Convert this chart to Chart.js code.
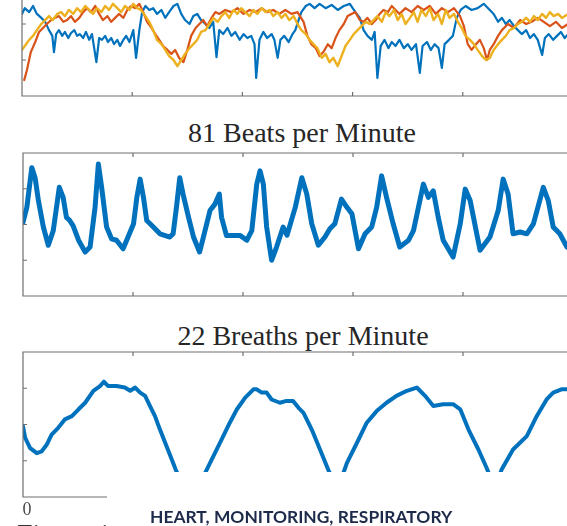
<!DOCTYPE html>
<html>
<head>
<meta charset="utf-8">
<script src="https://cdn.jsdelivr.net/npm/chart.js@4/dist/chart.umd.min.js"></script>
<style>
  html, body { margin:0; padding:0; background:#fff; width:567px; height:526px; overflow:hidden; position:relative; }
  canvas, .txt { position:absolute; }
  .ttl { font-family:"Liberation Serif","Times New Roman",serif; font-size:28px; line-height:28px; color:#262626; text-align:center; white-space:nowrap; }
  #mask { position:absolute; left:107px; top:472px; width:470px; height:60px; background:#fff; }
  #kw { position:absolute; left:150px; top:507px; font-family:Lato,"Open Sans",sans-serif; font-weight:700; font-size:17.4px; line-height:20px; color:#1d2a4a; white-space:nowrap; }
  #fig { position:absolute; left:17px; top:520px; font-family:"Liberation Serif",serif; font-size:28px; line-height:28px; color:#333; white-space:nowrap; }
</style>
</head>
<body>
<canvas id="c1" width="571" height="164" style="left:12px;top:-58px"></canvas>
<div class="txt ttl" style="left:0;top:119px;width:604px">81 Beats per Minute</div>
<canvas id="c2" width="570" height="163" style="left:13px;top:143px"></canvas>
<div class="txt ttl" style="left:0;top:322px;width:606px">22 Breaths per Minute</div>
<canvas id="c3" width="570" height="185" style="left:13px;top:342px"></canvas>
<div id="fig">Figure 1</div>
<div id="mask"></div>
<div id="kw">HEART, MONITORING, RESPIRATORY</div>
<script>
// ---- shared axes (time in seconds, amplitude in arbitrary units) ----
const timeTicks = [0, 2, 4, 6, 8, 10];
const timeTickLabels = ["0", "2", "4", "6", "8", "10"];
const ampTicks = [1, 2, 3];

// ---- panel 1: three raw colour-channel signals ----
const mixBlueT = [0,0.05,0.13,0.2,0.27,0.35,0.42,0.49,0.55,0.58,0.62,0.67,0.73,0.78,0.84,0.89,0.95,1.0,1.05,1.11,1.16,1.22,1.27,1.35,1.4,1.45,1.51,1.56,1.62,1.67,1.73,1.78,1.84,1.89,1.95,2.02,2.07,2.13,2.18,2.24,2.31,2.38,2.45,2.53,2.6,2.67,2.75,2.82,2.89,2.96,3.04,3.11,3.18,3.25,3.33,3.4,3.47,3.53,3.58,3.65,3.73,3.8,3.87,3.95,4.02,4.09,4.16,4.22,4.25,4.31,4.38,4.45,4.53,4.58,4.64,4.69,4.76,4.84,4.91,4.96,5.02,5.07,5.15,5.22,5.31,5.4,5.51,5.62,5.73,5.84,5.95,6.05,6.13,6.2,6.27,6.35,6.4,6.45,6.51,6.58,6.65,6.71,6.78,6.85,6.93,7.0,7.07,7.15,7.22,7.27,7.35,7.42,7.49,7.56,7.62,7.67,7.75,7.82,7.89,7.96,8.05,8.16,8.27,8.38,8.49,8.56,8.64,8.71,8.78,8.85,8.93,9.0,9.07,9.15,9.22,9.29,9.36,9.44,9.49,9.56,9.64,9.71,9.78,9.85,9.91];
const mixBlueV = [2.28,2.44,2.33,2.5,2.28,2.17,2.06,1.83,1.67,1.22,1.72,1.83,1.67,1.78,1.61,1.75,1.83,1.67,1.72,1.61,1.78,1.56,1.72,0.94,1.61,1.56,1.67,1.5,1.61,1.44,1.56,1.39,1.56,1.67,1.5,1.83,1.06,1.83,2.33,2.5,2.39,2.44,2.28,2.39,2.17,2.33,2.5,2.56,2.28,2.11,2.0,2.22,2.28,2.11,2.0,1.89,2.06,1.08,1.83,1.72,1.89,1.67,1.78,1.56,1.72,1.61,1.67,1.44,0.5,1.56,1.78,1.61,1.72,1.56,1.06,1.56,1.67,1.5,1.72,1.83,2.11,2.33,2.5,2.56,2.44,2.56,2.44,2.53,2.39,2.5,2.56,2.33,2.17,1.83,1.67,1.56,1.78,0.5,1.39,1.56,1.33,1.5,1.39,1.56,1.33,1.44,1.28,1.44,0.64,1.39,1.5,1.28,1.44,1.33,0.78,1.44,1.56,1.67,2.17,2.39,2.5,2.39,2.44,2.56,2.39,2.28,2.06,2.17,2.0,2.11,1.94,1.83,1.72,1.83,1.61,1.72,1.56,1.14,1.61,1.72,1.56,1.67,1.78,1.61,1.72];
const mixRedT = [0.04,0.09,0.16,0.24,0.31,0.38,0.45,0.53,0.6,0.67,0.75,0.82,0.89,0.96,1.04,1.11,1.18,1.25,1.33,1.4,1.47,1.55,1.62,1.69,1.76,1.84,1.91,1.98,2.05,2.13,2.2,2.27,2.35,2.42,2.49,2.56,2.64,2.71,2.78,2.85,2.93,3.0,3.07,3.15,3.22,3.29,3.36,3.44,3.51,3.58,3.69,3.8,3.91,4.02,4.13,4.24,4.35,4.45,4.56,4.67,4.78,4.89,5.0,5.11,5.18,5.25,5.33,5.4,5.47,5.55,5.62,5.69,5.76,5.84,5.91,5.98,6.05,6.13,6.2,6.27,6.35,6.42,6.49,6.56,6.64,6.71,6.78,6.85,6.96,7.07,7.18,7.29,7.4,7.51,7.62,7.73,7.84,7.95,8.02,8.09,8.16,8.24,8.31,8.38,8.44,8.49,8.56,8.64,8.71,8.82,8.93,9.04,9.15,9.25,9.36,9.47,9.58,9.69,9.8,9.91];
const mixRedV = [0.44,0.72,1.22,1.5,1.78,1.89,2.0,2.11,2.17,2.22,2.06,2.11,2.22,2.06,2.17,2.33,2.44,2.33,2.5,2.28,2.11,2.22,2.06,2.17,2.28,2.17,2.39,2.5,2.44,2.56,2.33,2.06,1.89,1.72,1.56,1.39,1.28,1.17,1.28,1.06,0.94,1.28,1.67,1.89,2.0,2.11,1.94,2.17,2.33,2.28,2.39,2.33,2.44,2.28,2.39,2.33,2.44,2.33,2.39,2.28,2.39,2.28,2.33,2.06,1.67,1.44,1.33,1.11,1.22,1.44,1.33,1.61,1.83,2.0,2.22,2.28,2.33,2.11,2.06,2.17,2.0,2.11,2.28,2.39,2.33,2.5,2.39,2.28,2.44,2.33,2.5,2.39,2.5,2.28,2.44,2.33,2.44,2.22,1.94,1.44,1.28,1.44,1.56,1.33,1.0,1.28,1.44,1.67,1.83,2.0,1.89,2.11,2.0,2.06,2.17,2.06,1.94,2.06,1.89,2.0];
const mixYellowT = [0,0.05,0.13,0.2,0.27,0.35,0.42,0.49,0.56,0.64,0.71,0.78,0.85,0.93,1.0,1.07,1.15,1.22,1.29,1.36,1.44,1.51,1.58,1.65,1.73,1.8,1.87,1.95,2.02,2.09,2.16,2.24,2.31,2.38,2.45,2.53,2.6,2.67,2.75,2.82,2.89,2.96,3.04,3.11,3.18,3.25,3.33,3.4,3.47,3.55,3.62,3.69,3.76,3.84,3.91,3.98,4.05,4.13,4.2,4.27,4.35,4.42,4.49,4.56,4.64,4.71,4.78,4.85,4.93,5.0,5.07,5.15,5.22,5.29,5.36,5.44,5.51,5.58,5.65,5.73,5.8,5.87,5.95,6.02,6.09,6.16,6.24,6.31,6.38,6.45,6.53,6.6,6.67,6.75,6.82,6.89,6.96,7.04,7.11,7.18,7.25,7.33,7.4,7.47,7.55,7.62,7.69,7.76,7.84,7.91,7.98,8.05,8.13,8.2,8.27,8.35,8.42,8.49,8.56,8.64,8.71,8.78,8.85,8.93,9.0,9.07,9.15,9.22,9.29,9.36,9.44,9.51,9.58,9.65,9.73,9.8,9.91];
const mixYellowV = [1.28,1.39,1.56,1.67,1.83,2.0,2.11,2.22,2.11,2.28,2.33,2.22,2.39,2.28,2.44,2.33,2.5,2.39,2.28,2.44,2.33,2.5,2.39,2.56,2.44,2.33,2.5,2.39,2.56,2.44,2.39,2.22,2.06,1.83,1.56,1.44,1.28,1.11,1.0,0.83,1.0,1.17,1.33,1.44,1.56,1.78,1.83,2.0,2.17,2.06,2.22,2.33,2.17,2.39,2.28,2.44,2.33,2.22,2.39,2.28,2.44,2.33,2.39,2.22,2.33,2.17,2.28,2.11,2.22,2.0,1.83,1.72,1.56,1.44,1.33,1.06,1.17,0.94,1.06,0.83,1.11,1.39,1.56,1.72,1.83,1.94,2.06,2.0,2.11,2.22,2.06,2.33,2.22,2.39,2.11,2.28,2.0,2.17,2.33,2.06,2.39,2.22,2.44,2.11,2.28,2.0,2.39,2.17,2.28,2.06,1.89,1.67,1.56,1.44,1.28,1.11,1.0,1.06,1.28,1.44,1.56,1.67,1.83,1.89,2.0,2.06,2.17,2.06,2.22,2.11,2.28,2.17,2.33,2.22,2.28,2.17,2.28];

// ---- panel 2: heart signal ----
const heartT = [0,0.07,0.16,0.22,0.28,0.37,0.46,0.55,0.66,0.73,0.79,0.85,0.91,1.01,1.13,1.22,1.31,1.37,1.43,1.52,1.61,1.70,1.82,1.91,2.01,2.07,2.13,2.19,2.25,2.37,2.49,2.67,2.73,2.79,2.85,2.91,3.01,3.10,3.21,3.28,3.40,3.49,3.57,3.61,3.70,3.82,3.95,4.07,4.16,4.25,4.31,4.37,4.43,4.52,4.61,4.73,4.80,4.95,5.07,5.16,5.25,5.37,5.49,5.58,5.67,5.79,5.89,5.98,6.10,6.22,6.34,6.43,6.52,6.61,6.73,6.85,7.01,7.10,7.19,7.28,7.37,7.46,7.55,7.64,7.82,7.95,8.04,8.13,8.25,8.31,8.49,8.64,8.73,8.82,8.91,9.04,9.16,9.28,9.46,9.55,9.64,9.76,9.89];
const heartV = [2.06,2.48,3.59,3.31,2.67,1.93,1.42,1.83,3.04,2.76,2.20,2.11,1.97,1.56,1.23,1.37,2.48,3.69,3.04,1.93,1.60,1.56,1.32,1.65,2.02,2.76,3.27,2.76,2.11,1.93,1.74,1.65,1.74,2.48,3.31,2.85,2.20,1.65,1.23,1.65,2.39,2.57,2.85,2.20,1.69,1.69,1.69,1.56,1.83,3.13,3.50,3.13,1.93,1.00,1.37,1.93,1.70,2.48,3.31,2.85,2.02,1.42,1.65,1.88,2.02,2.71,2.48,2.30,1.32,1.74,1.93,2.48,3.36,2.76,2.02,1.37,1.56,1.83,2.48,3.13,2.76,2.94,2.20,1.56,1.09,2.02,2.99,2.67,1.74,1.28,1.65,2.39,3.27,2.85,1.74,1.79,1.74,2.02,3.04,2.67,1.93,1.74,1.37];

// ---- panel 3: breathing signal ----
const breathT = [0,0.04,0.13,0.25,0.34,0.43,0.52,0.64,0.76,0.89,1.01,1.13,1.28,1.4,1.47,1.55,1.7,1.85,1.95,2.04,2.13,2.22,2.31,2.4,2.49,2.61,2.73,2.79,2.91,3.04,3.16,3.31,3.46,3.61,3.76,3.89,4.04,4.19,4.25,4.34,4.43,4.52,4.67,4.79,4.91,5.01,5.1,5.25,5.4,5.55,5.64,5.71,5.78,5.89,6.07,6.25,6.43,6.61,6.79,6.98,7.16,7.31,7.46,7.64,7.82,7.95,8.1,8.28,8.43,8.53,8.6,8.7,8.91,9.16,9.34,9.52,9.64,9.79,9.89];
const breathV = [1.95,1.63,1.35,1.21,1.26,1.44,1.72,1.91,2.14,2.23,2.42,2.6,2.93,3.06,3.18,3.06,3.06,3.02,2.93,3.02,2.88,2.79,2.51,2.23,1.86,1.4,0.94,0.7,0.42,0.28,0.42,0.66,1.12,1.58,2.05,2.42,2.74,2.97,2.97,2.88,2.88,2.69,2.6,2.65,2.65,2.46,2.32,1.86,1.31,0.75,0.47,0.36,0.47,0.94,1.49,2.05,2.37,2.6,2.79,2.93,3.02,2.79,2.51,2.56,2.56,2.42,1.86,1.31,0.8,0.42,0.31,0.75,1.31,1.68,2.23,2.69,2.88,2.97,2.97];

const C_BLUE = '#0072BD', C_RED = '#D95319', C_YEL = '#EDB120';
const pts = (t, v) => t.map((x, i) => ({ x, y: v[i] }));

const framePlugin = {
  id: 'frame',
  afterDatasetsDraw(chart, args, opts) {
    const { ctx, chartArea: a, scales: { x, y } } = chart;
    const L = 4;
    ctx.save();
    ctx.strokeStyle = '#6f6f6f';
    ctx.lineWidth = 1.2;
    ctx.beginPath();
    ctx.rect(a.left, a.top, a.right - a.left, a.bottom - a.top);
    for (const v of timeTicks) {
      const px = x.getPixelForValue(v);
      ctx.moveTo(px, a.bottom); ctx.lineTo(px, a.bottom - L);
      ctx.moveTo(px, a.top); ctx.lineTo(px, a.top + L);
    }
    for (const v of ampTicks) {
      const py = y.getPixelForValue(v);
      ctx.moveTo(a.left, py); ctx.lineTo(a.left + L, py);
      ctx.moveTo(a.right, py); ctx.lineTo(a.right - L, py);
    }
    ctx.stroke();
    if (opts.labels) {
      ctx.fillStyle = '#4a4a4a';
      ctx.font = '18px "Liberation Serif", serif';
      ctx.textAlign = 'center';
      ctx.textBaseline = 'alphabetic';
      timeTicks.forEach((v, i) => {
        ctx.fillText(timeTickLabels[i], x.getPixelForValue(v) + 4, a.bottom + 18);
      });
    }
    ctx.restore();
  }
};

function makeChart(id, datasets, padding, labels) {
  return new Chart(document.getElementById(id), {
    type: 'line',
    data: { datasets },
    options: {
      responsive: false,
      animation: false,
      events: [],
      layout: { padding },
      elements: { point: { radius: 0 }, line: { tension: 0, borderJoinStyle: 'round', borderCapStyle: 'round' } },
      scales: {
        x: { type: 'linear', min: 0, max: 10, display: false },
        y: { type: 'linear', min: 0, max: 4, display: false }
      },
      plugins: { legend: { display: false }, tooltip: { enabled: false }, frame: { labels } }
    },
    plugins: [framePlugin]
  });
}

makeChart('c1', [
  { data: pts(mixYellowT, mixYellowV), borderColor: C_YEL, borderWidth: 2.4 },
  { data: pts(mixRedT, mixRedV), borderColor: C_RED, borderWidth: 2.2 },
  { data: pts(mixBlueT, mixBlueV), borderColor: C_BLUE, borderWidth: 2.2 }
], { left: 10, right: 10, top: 10, bottom: 10 }, false);

makeChart('c2', [
  { data: pts(heartT, heartV), borderColor: C_BLUE, borderWidth: 5 }
], { left: 10, right: 10, top: 10, bottom: 10 }, false);

makeChart('c3', [
  { data: pts(breathT, breathV), borderColor: C_BLUE, borderWidth: 4 }
], { left: 10, right: 10, top: 10, bottom: 30 }, true);
</script>
</body>
</html>
